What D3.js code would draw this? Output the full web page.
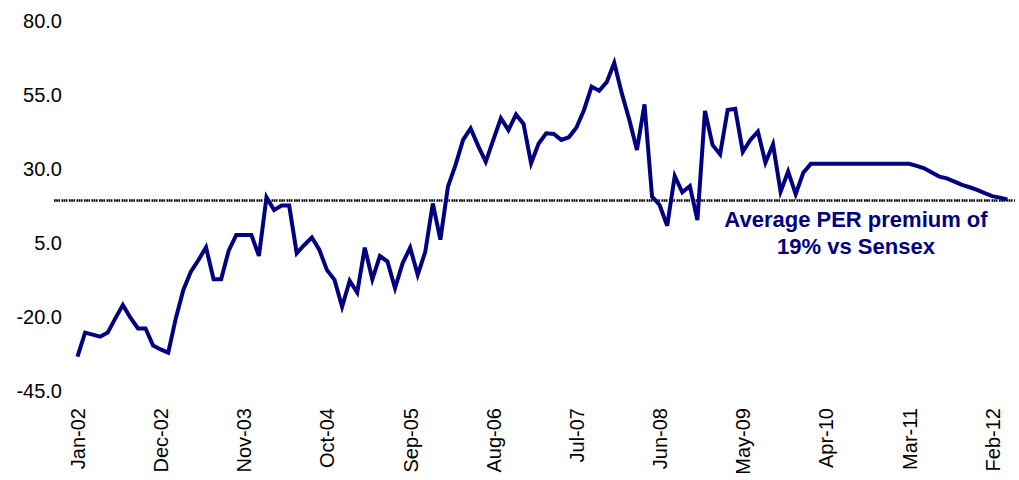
<!DOCTYPE html>
<html>
<head>
<meta charset="utf-8">
<script src="https://cdn.jsdelivr.net/npm/d3@7"></script>
<style>
  html, body { margin: 0; padding: 0; background: #ffffff; }
  svg { display: block; }
</style>
</head>
<body>
<svg id="chart" width="1019" height="480"></svg>
<script>
// ---- DATA ----
// Monthly observations, Jan-02 through Apr-12
const startYear = 2002;
const startMonth = 0; // January
const premium = [
  -33.7, -25.6, -26.3, -27.0, -25.6, -20.8, -16.3, -20.6, -24.2, -24.2, -30.0, -31.3,
  -32.4, -20.8, -11.2, -5.0, -1.1, 3.2, -7.6, -7.6, 2.1, 7.4, 7.4, 7.4,
  0.3, 20.1, 15.8, 17.3, 17.3, 1.2, 4.0, 6.5, 2.3, -4.5, -7.8, -16.9,
  -8.1, -12.1, 3.1, -7.6, 0.3, -1.6, -10.6, -2.2, 3.1, -6.1, 1.7, 18.0,
  5.8, 23.7, 31.0, 39.5, 43.4, 37.5, 32.1, 39.5, 46.8, 42.8, 48.1, 44.9,
  31.6, 38.3, 41.7, 41.5, 39.5, 40.4, 43.7, 49.6, 57.5, 56.1, 59.0, 65.5,
  55.2, 46.2, 36.1, 51.5, 20.3, 17.5, 10.5, 27.3, 21.8, 23.9, 12.4, 49.3,
  37.8, 34.6, 49.6, 50.0, 35.5, 39.5, 42.3, 31.8, 38.0, 22.0, 28.8, 21.2,
  28.4, 31.4, 31.4, 31.4, 31.4, 31.4, 31.4, 31.4, 31.4, 31.4, 31.4, 31.4,
  31.4, 31.4, 31.4, 30.7, 29.9, 28.5, 27.1, 26.5, 25.4, 24.3, 23.5, 22.6,
  21.5, 20.5, 20.0, 19.4
];
const averagePremium = 19;
const yTickValues = [-45, -20, 5, 30, 55, 80];
const xTickLabels = ["Jan-02", "Dec-02", "Nov-03", "Oct-04", "Sep-05", "Aug-06",
                     "Jul-07", "Jun-08", "May-09", "Apr-10", "Mar-11", "Feb-12"];
const annotationLines = ["Average PER premium of", "19% vs Sensex"];

// ---- CHART ----
const months = premium.map((v, i) => d3.timeFormat("%b-%y")(new Date(startYear, startMonth + i, 1)));
const xTickIndex = xTickLabels.map(l => months.indexOf(l));

const svg = d3.select("#chart");
const font = "'Liberation Sans', Arial, sans-serif";

const x = d3.scaleLinear().domain([0, premium.length - 1]).range([77.5, 77.5 + 7.56 * (premium.length - 1)]);
const y = d3.scaleLinear().domain([-45, 80]).range([390, 20]);

// y axis labels
const yAxis = svg.append("g")
  .attr("transform", "translate(62,0)")
  .call(d3.axisLeft(y).tickValues(yTickValues).tickFormat(d => d.toFixed(1)).tickSize(0).tickPadding(0));
yAxis.select(".domain").remove();
yAxis.selectAll("text")
  .attr("font-family", font).attr("font-size", 20).attr("fill", "#000").attr("dy", "0.35em");

// x axis labels
const xAxis = svg.append("g")
  .attr("transform", "translate(0,408)")
  .call(d3.axisBottom(x).tickValues(xTickIndex).tickFormat((d, i) => xTickLabels[i]).tickSize(0));
xAxis.select(".domain").remove();
xAxis.selectAll("text")
  .attr("transform", "rotate(-90)")
  .attr("x", 0).attr("y", 0).attr("dy", "0.35em")
  .attr("text-anchor", "end")
  .attr("font-family", font).attr("font-size", 20).attr("fill", "#000");

// average line
svg.append("line")
  .attr("x1", 54).attr("x2", 1015)
  .attr("y1", y(averagePremium)).attr("y2", y(averagePremium))
  .attr("stroke", "#000").attr("stroke-width", 2.6)
  .attr("stroke-dasharray", "1.7,0.5,1.7,0.5,1.6,1.5");

// series line
const line = d3.line().x((d, i) => x(i)).y(d => y(d));
svg.append("path")
  .datum(premium)
  .attr("d", line)
  .attr("fill", "none")
  .attr("stroke", "#000080")
  .attr("stroke-width", 4);

// annotation
svg.append("g").selectAll("text")
  .data(annotationLines)
  .join("text")
  .attr("x", 856)
  .attr("y", (d, i) => 227 + i * 27)
  .attr("text-anchor", "middle")
  .attr("font-family", font)
  .attr("font-weight", "bold")
  .attr("font-size", 22)
  .attr("fill", "#000080")
  .text(d => d);
</script>
</body>
</html>
